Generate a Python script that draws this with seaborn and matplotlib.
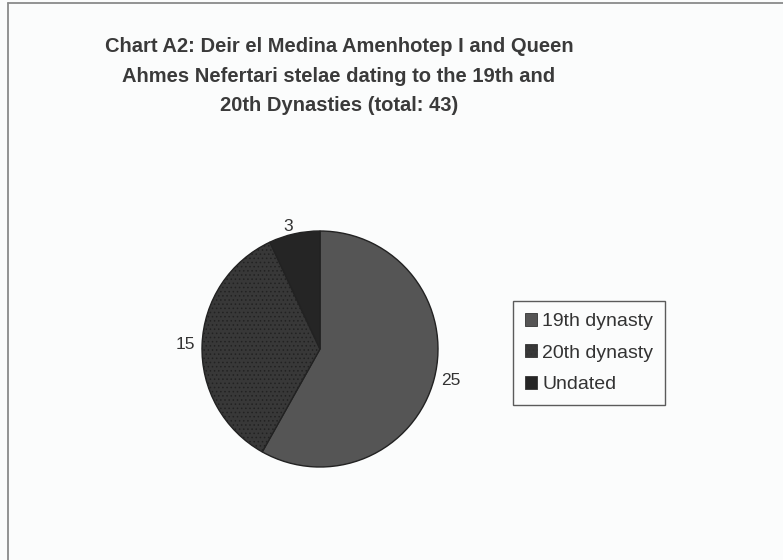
import matplotlib
matplotlib.use("Agg")
import matplotlib.pyplot as plt
from matplotlib.patches import Rectangle
from matplotlib.lines import Line2D
import seaborn as sns

title = "Chart A2: Deir el Medina Amenhotep I and Queen\nAhmes Nefertari stelae dating to the 19th and\n20th Dynasties (total: 43)"
categories = ["19th dynasty", "20th dynasty", "Undated"]
counts = [25, 15, 3]
colors = ["#555555", "#383838", "#252525"]

sns.set_style("white")
plt.rcParams["font.family"] = ["Liberation Sans", "DejaVu Sans"]
plt.rcParams["hatch.color"] = "#505050"
plt.rcParams["hatch.linewidth"] = 0.6

W, H = 783, 560
fig = plt.figure(figsize=(W / 100, H / 100), dpi=100, facecolor="#fbfcfc")

# only the top and left edges of the chart frame are visible
fig.add_artist(Line2D([8 / W, 8 / W], [0, 1 - 3 / H], transform=fig.transFigure,
                      color="#8a8a8a", linewidth=1.3))
fig.add_artist(Line2D([8 / W, 1], [1 - 3 / H, 1 - 3 / H], transform=fig.transFigure,
                      color="#8a8a8a", linewidth=1.3))

fig.text(339 / W, 1 - 76 / H, title, ha="center", va="center", fontsize=14.5,
         fontweight="bold", color="#3a3a3a", linespacing=1.72)

# pie axes: center ~ (320, 349) px, radius ~118 px
r = 118
ax = fig.add_axes([(320 - r) / W, 1 - (349 + r) / H, 2 * r / W, 2 * r / H])
wedges, texts = ax.pie(counts, labels=[str(c) for c in counts], colors=colors,
                       startangle=90, counterclock=False, labeldistance=1.06,
                       wedgeprops=dict(edgecolor="#222222", linewidth=1.0),
                       textprops=dict(fontsize=12.5, color="#333333"))
wedges[1].set_hatch("....")
ax.set_xlim(-1, 1)
ax.set_ylim(-1, 1)
ax.set_aspect("equal")
for w in wedges:
    w.set_clip_on(False)

handles = [Rectangle((0, 0), 1, 1, facecolor=c, edgecolor="#333333", linewidth=0.6) for c in colors]
handles[1].set_hatch("....")
leg = fig.legend(handles, categories, loc="center", bbox_to_anchor=(589 / W, 1 - 353 / H),
                 frameon=True, fontsize=14, handlelength=0.65, handleheight=0.65,
                 handletextpad=0.25, labelspacing=0.72, borderpad=0.6, fancybox=False,
                 borderaxespad=0)
leg.get_frame().set_edgecolor("#333333")
leg.get_frame().set_linewidth(1.0)
leg.get_frame().set_facecolor("#fbfcfc")
for t in leg.get_texts():
    t.set_color("#333333")

fig.savefig("out.png", dpi=100, facecolor=fig.get_facecolor())
